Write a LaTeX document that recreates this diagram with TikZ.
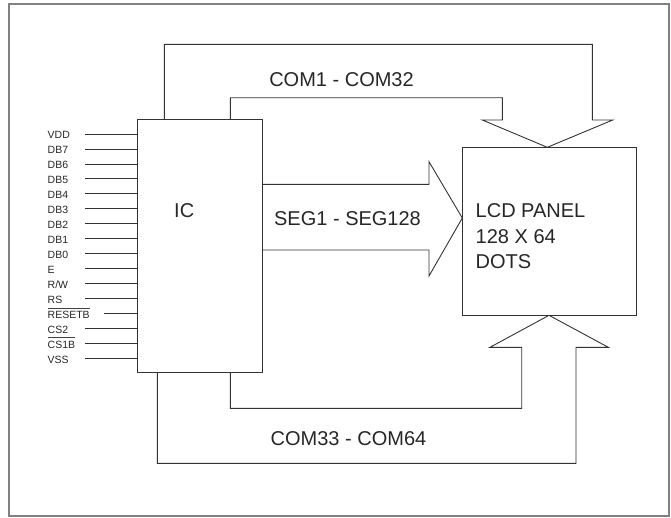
\documentclass[tikz,border=0pt]{standalone}
\usepackage{fontspec}
\setmainfont{Liberation Sans}
\begin{document}
\begin{tikzpicture}[x=1pt,y=-1pt,
  ln/.style={draw=black!80, line width=0.9pt, line join=miter},
  ovl/.style={draw=black!75, line width=0.8pt},
  frame/.style={draw=black!50, line width=1.6pt},
  big/.style={font=\fontsize{20}{24}\selectfont, inner sep=0pt, text=black!85},
  pin/.style={font=\fontsize{10.5}{12}\selectfont, inner sep=0pt, anchor=base west, text=black!85},
]
\useasboundingbox (0,0) rectangle (671,517);
\draw[frame] (9,4) rectangle (669,516);
% blocks
\node[ln, rectangle, minimum width=125pt, minimum height=253pt, inner sep=0pt, outer sep=0pt, anchor=north west] (ic) at (137.3,119.3) {};
\node[ln, rectangle, minimum width=173.7pt, minimum height=168pt, inner sep=0pt, outer sep=0pt, anchor=north west] (lcd) at (462.3,147.3) {};
\node[big, anchor=base west] (ictxt) at (174,217.7) {IC};
\node[big, anchor=base west] (lcdA) at (475.5,217.3) {LCD PANEL};
\node[big, anchor=base west] (lcdB) at (475.5,243.3) {128 X 64};
\node[big, anchor=base west] (lcdC) at (475.5,268.6) {DOTS};
% pins
\foreach \t/\sx [count=\i from 0] in {VDD/85,DB7/85,DB6/85,DB5/85,DB4/85,DB3/85,DB2/85,DB1/85,DB0/85,E/85,{R/W}/85,RS/85,RESETB/104,CS2/85,CS1B/85,VSS/85} {
  \node[pin] (n\i) at (47.5, 134+14.98*\i+4.3) {\t};
  \coordinate (s\i) at (\sx, 134+14.98*\i);
  \draw[ln] (s\i) -- (s\i -| ic.west);
}
% overlines (active-low pins)
\draw[ovl] ([yshift=2.6pt]n12.north west) -- ([yshift=2.6pt]n12.north east);
\draw[ovl] ([yshift=2.6pt]n14.north west) -- ([yshift=2.6pt]n14.north east);
% COM1-COM32 bus
\draw[ln] ([xshift=27pt]ic.north west) |- (592.3,44.3) -- (592.3,120) -- (612.7,120)
  -- (547.3,0 |- lcd.north) -- (482.3,120) -- (502.3,120) |- (230.3,97.7) -- (230.3,0 |- ic.north);
% SEG bus
\draw[ln] (ic.east |- 0,184.3) -- (429,184.3) -- (429,161.7) -- (lcd.west |- 0,218)
  -- (429,276) -- (429,250) -- (ic.east |- 0,250);
% COM33-COM64 bus
\draw[ln] ([xshift=20pt]ic.south west) |- (576,463.3) -- (576,347.3) -- (608.3,347.3)
  -- (549,0 |- lcd.south) -- (490,347.3) -- (521.7,347.3) |- (230.3,408.3) -- (230.3,0 |- ic.south);
% labels
\node[big, anchor=base] (lcom1) at (341.5,86) {COM1 - COM32};
\node[big, anchor=base] (lseg) at (347.5,225) {SEG1 - SEG128};
\node[big, anchor=base] (lcom2) at (348.5,445) {COM33 - COM64};
\end{tikzpicture}
\end{document}
